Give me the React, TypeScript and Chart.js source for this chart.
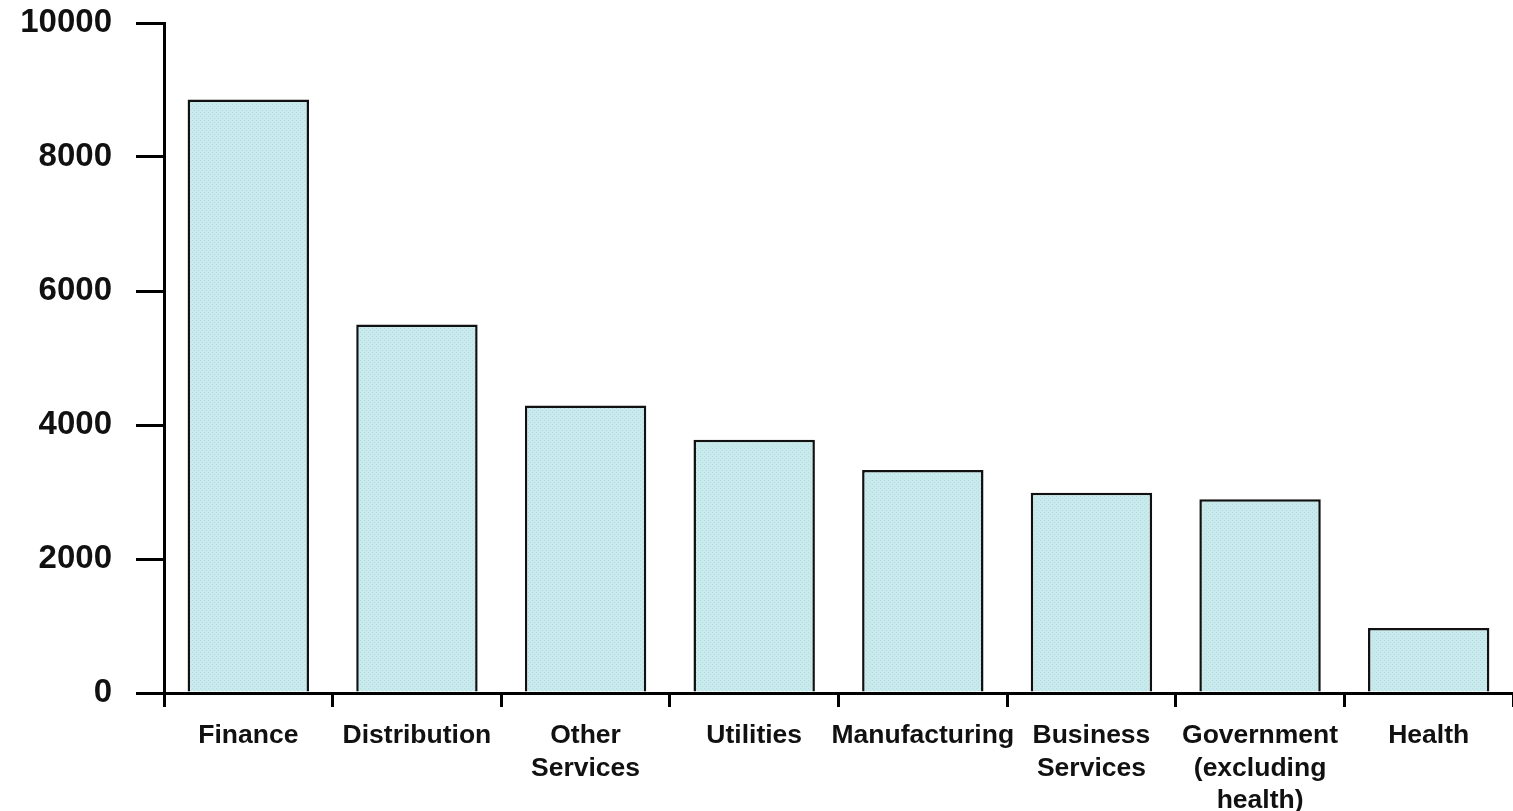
import React, { useEffect, useRef } from "react";
import { Chart, registerables } from "chart.js";

Chart.register(...registerables);

const categories: (string | string[])[] = [
  "Finance",
  "Distribution",
  ["Other", "Services"],
  "Utilities",
  "Manufacturing",
  ["Business", "Services"],
  ["Government", "(excluding", "health)"],
  "Health",
];

const values: number[] = [8860, 5500, 4290, 3780, 3330, 2990, 2890, 970];

const yTicks: number[] = [0, 2000, 4000, 6000, 8000, 10000];

function makePattern(): CanvasPattern | string {
  const c = document.createElement("canvas");
  c.width = 4;
  c.height = 4;
  const ctx = c.getContext("2d");
  if (!ctx) return "#c4e8ea";
  ctx.fillStyle = "#c8eaec";
  ctx.fillRect(0, 0, 4, 4);
  ctx.fillStyle = "#b3dde0";
  ctx.fillRect(0, 0, 1, 1);
  ctx.fillRect(2, 2, 1, 1);
  const p = ctx.createPattern(c, "repeat");
  return p || "#c4e8ea";
}

export default function App() {
  const ref = useRef<HTMLCanvasElement | null>(null);

  useEffect(() => {
    if (!ref.current) return;
    const chart = new Chart(ref.current, {
      type: "bar",
      data: {
        labels: categories,
        datasets: [
          {
            data: values,
            backgroundColor: makePattern() as any,
            borderColor: "#111",
            borderWidth: 2.5,
            borderSkipped: "bottom",
            barPercentage: 0.72,
            categoryPercentage: 1,
          },
        ],
      },
      options: {
        responsive: false,
        animation: false,
        layout: { padding: { top: 23, right: 0, left: 0, bottom: 0 } },
        plugins: {
          legend: { display: false },
          tooltip: { enabled: false },
        },
        scales: {
          x: {
            offset: true,
            grid: {
              offset: true,
              drawOnChartArea: false,
              drawTicks: true,
              tickLength: 14,
              color: "#000",
              lineWidth: 3,
            },
            border: { display: true, color: "#000", width: 3 },
            ticks: {
              color: "#111",
              padding: 12,
              maxRotation: 0,
              autoSkip: false,
              font: {
                family: "'Liberation Sans', Arial, sans-serif",
                size: 26.5,
                weight: "bold",
                lineHeight: 1.24,
              },
            },
            afterFit: (scale: any) => {
              scale.height = 118;
              scale.paddingLeft = 0;
              scale.paddingRight = 0;
            },
          },
          y: {
            min: 0,
            max: 10000,
            afterBuildTicks: (scale: any) => {
              scale.ticks = yTicks.map((v) => ({ value: v }));
            },
            grid: {
              drawOnChartArea: false,
              drawTicks: true,
              tickLength: 28,
              color: "#000",
              lineWidth: 3,
            },
            border: { display: true, color: "#000", width: 3 },
            ticks: {
              color: "#111",
              padding: 24,
              callback: (v: any) => String(v),
              font: {
                family: "'Liberation Sans', Arial, sans-serif",
                size: 33,
                weight: "bold",
              },
            },
            afterFit: (scale: any) => {
              scale.width = 164;
              scale.paddingTop = 0;
              scale.paddingBottom = 0;
            },
          },
        },
      },
    });
    return () => chart.destroy();
  }, []);

  return (
    <div style={{ position: "fixed", left: 0, top: 0, width: 1513, height: 811, background: "#fff" }}>
      <canvas ref={ref} width={1513} height={811} style={{ width: 1513, height: 811, display: "block" }} />
    </div>
  );
}
